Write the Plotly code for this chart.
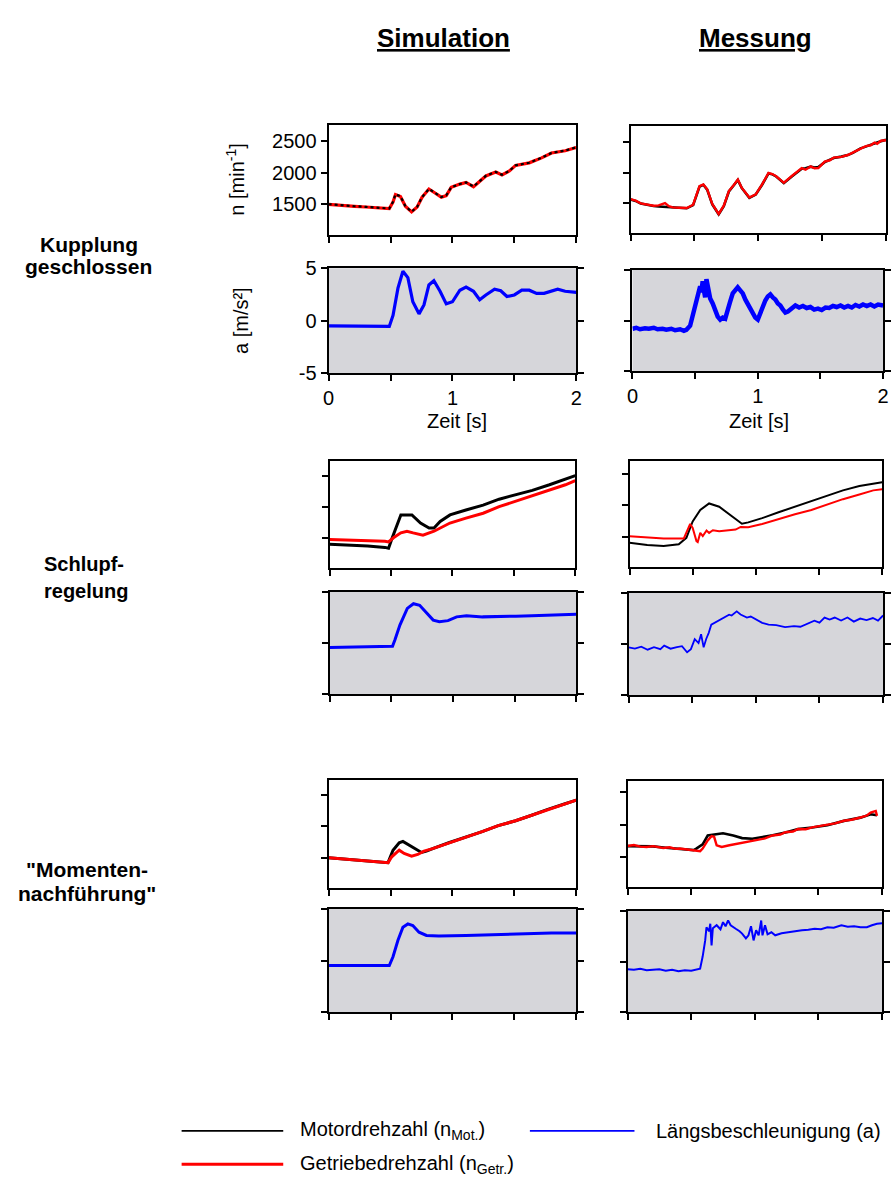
import plotly.graph_objects as go

# ---------------- data ----------------
# Row 1: Kupplung geschlossen - Simulation, speeds
SIM1_T = [0.00, 0.10, 0.21, 0.30, 0.40, 0.49, 0.52, 0.54, 0.58, 0.62, 0.67, 0.715, 0.755, 0.81, 0.85, 0.91,
          0.95, 0.99, 1.06, 1.11, 1.17, 1.21, 1.27, 1.35, 1.40, 1.46, 1.51, 1.62, 1.72, 1.80, 1.91, 2.00]
SIM1_GETR = [1500, 1480, 1469, 1458, 1445, 1432, 1536, 1656, 1625, 1469, 1380, 1458, 1614, 1744, 1692, 1614,
             1640, 1770, 1822, 1848, 1781, 1848, 1952, 2015, 1968, 2030, 2119, 2160, 2239, 2316, 2353, 2405]
SIM1_MOT = [1502, 1482, 1470, 1460, 1446, 1434, 1540, 1660, 1628, 1472, 1382, 1460, 1616, 1746, 1694, 1616,
            1642, 1772, 1824, 1850, 1783, 1850, 1954, 2017, 1970, 2032, 2121, 2162, 2241, 2318, 2355, 2407]
# Row 2: Kupplung geschlossen - Simulation, acceleration
SIM2_T = [0.00, 0.20, 0.40, 0.49, 0.52, 0.56, 0.60, 0.64, 0.68, 0.73, 0.77, 0.81, 0.85, 0.90, 0.95, 1.00,
          1.06, 1.11, 1.17, 1.22, 1.27, 1.34, 1.39, 1.44, 1.50, 1.56, 1.62, 1.68, 1.74, 1.80, 1.85, 1.91, 2.00]
SIM2_A = [-0.5, -0.5, -0.55, -0.55, 0.5, 3.1, 4.7, 4.1, 1.8, 0.65, 1.5, 3.4, 3.8, 2.8, 1.6, 1.8,
          2.9, 3.2, 2.8, 2.0, 2.45, 3.0, 2.85, 2.3, 2.45, 2.9, 2.9, 2.6, 2.6, 2.8, 3.0, 2.8, 2.7]
# Row 1: Kupplung geschlossen - Messung, speeds
MES1_T = [0.00, 0.04, 0.08, 0.13, 0.18, 0.22, 0.26, 0.27, 0.30, 0.33, 0.38, 0.44, 0.49, 0.51, 0.54, 0.57,
          0.60, 0.64, 0.69, 0.73, 0.77, 0.81, 0.84, 0.87, 0.93, 0.98, 1.03, 1.08, 1.11, 1.14, 1.20, 1.26,
          1.30, 1.34, 1.37, 1.41, 1.44, 1.47, 1.52, 1.56, 1.59, 1.65, 1.70, 1.74, 1.77, 1.80, 1.83, 1.85,
          1.88, 1.91, 1.93, 1.96, 2.00]
MES1_GETR = [1564, 1540, 1495, 1475, 1457, 1462, 1484, 1500, 1450, 1430, 1425, 1420, 1473, 1591, 1778, 1805,
             1725, 1484, 1323, 1457, 1698, 1800, 1885, 1751, 1591, 1644, 1805, 1992, 1975, 1939, 1832, 1939,
             2000, 2072, 2045, 2099, 2070, 2072, 2179, 2200, 2244, 2255, 2286, 2330, 2367, 2390, 2420, 2436,
             2445, 2490, 2470, 2520, 2527]
MES1_MOT = [1560, 1535, 1492, 1470, 1452, 1445, 1440, 1438, 1430, 1422, 1415, 1415, 1468, 1585, 1770, 1800,
            1720, 1480, 1318, 1450, 1690, 1795, 1878, 1748, 1585, 1640, 1800, 1985, 1970, 1935, 1828, 1932,
            1995, 2060, 2070, 2095, 2080, 2090, 2170, 2210, 2238, 2260, 2285, 2320, 2360, 2395, 2415, 2432,
            2450, 2480, 2490, 2510, 2535]
# Row 2: Kupplung geschlossen - Messung, acceleration
MES2_T = [0.00, 0.03, 0.06, 0.10, 0.13, 0.17, 0.20, 0.24, 0.27, 0.31, 0.34, 0.38, 0.41, 0.43, 0.46, 0.48,
          0.50, 0.52, 0.54, 0.55, 0.56, 0.57, 0.58, 0.59, 0.60, 0.61, 0.62, 0.64, 0.66, 0.68, 0.70, 0.72,
          0.74, 0.76, 0.78, 0.80, 0.82, 0.84, 0.86, 0.88, 0.90, 0.92, 0.94, 0.96, 0.98, 1.00, 1.02, 1.04,
          1.06, 1.08, 1.10, 1.12, 1.14, 1.16, 1.18, 1.20, 1.22, 1.24, 1.27, 1.30, 1.33, 1.36, 1.39, 1.42,
          1.45, 1.48, 1.51, 1.54, 1.57, 1.60, 1.63, 1.66, 1.69, 1.72, 1.75, 1.78, 1.81, 1.84, 1.87, 1.90,
          1.93, 1.96, 2.00]
MES2_A = [-0.8, -0.7, -0.85, -0.75, -0.8, -0.7, -0.85, -0.8, -0.9, -0.8, -0.95, -0.85, -1.0, -0.9, -0.5, 0.4,
          1.5, 2.4, 3.4, 2.8, 3.9, 3.0, 2.3, 4.1, 3.3, 2.7, 2.2, 1.7, 1.0, 0.4, 0.1, 0.3,
          0.2, 0.9, 1.9, 2.7, 3.0, 3.3, 3.0, 2.7, 2.1, 1.6, 1.2, 0.6, 0.3, 0.1, 0.8, 1.4,
          2.0, 2.4, 2.6, 2.3, 2.1, 1.7, 1.5, 1.1, 0.8, 0.9, 1.25, 1.5, 1.3, 1.45, 1.25, 1.35,
          1.1, 1.2, 1.05, 1.3, 1.25, 1.45, 1.35, 1.5, 1.3, 1.45, 1.3, 1.55, 1.4, 1.6, 1.45, 1.6,
          1.4, 1.6, 1.5]
# Row 3: Schlupfregelung - Simulation, speeds
SIM3_MOT_T = [0.00, 0.15, 0.31, 0.45, 0.48, 0.51, 0.55, 0.58, 0.67, 0.74, 0.81, 0.85, 0.90, 0.98, 1.11,
              1.25, 1.38, 1.52, 1.65, 1.79, 1.92, 2.00]
SIM3_MOT = [1395, 1385, 1368, 1345, 1332, 1500, 1710, 1868, 1868, 1737, 1658, 1658, 1763, 1868, 1947,
            2026, 2121, 2195, 2263, 2353, 2437, 2500]
SIM3_GETR_T = [0.00, 0.15, 0.31, 0.45, 0.48, 0.52, 0.58, 0.63, 0.68, 0.76, 0.85, 0.98, 1.11, 1.25, 1.38,
               1.52, 1.65, 1.79, 1.92, 2.00]
SIM3_GETR = [1474, 1466, 1458, 1445, 1432, 1500, 1579, 1605, 1579, 1542, 1605, 1737, 1816, 1895, 2000,
             2089, 2184, 2263, 2353, 2421]
# Row 4: Schlupfregelung - Simulation, acceleration
SIM4_T = [0.00, 0.25, 0.51, 0.53, 0.57, 0.63, 0.68, 0.73, 0.79, 0.84, 0.89, 0.96, 1.03, 1.11, 1.24, 1.37,
          1.51, 1.64, 1.77, 1.91, 2.00]
SIM4_A = [-0.42, -0.40, -0.32, 0.32, 1.77, 3.4, 3.86, 3.7, 2.9, 2.25, 2.1, 2.2, 2.57, 2.67, 2.57, 2.57,
          2.64, 2.67, 2.73, 2.8, 2.83]
# Row 3: Schlupfregelung - Messung, speeds
MES3_MOT_T = [0.00, 0.14, 0.27, 0.39, 0.45, 0.50, 0.56, 0.63, 0.71, 0.79, 0.85, 0.89, 0.94, 1.05, 1.18,
              1.31, 1.44, 1.57, 1.69, 1.82, 1.93, 2.00]
MES3_MOT = [1406, 1370, 1354, 1380, 1484, 1744, 1926, 2030, 1978, 1859, 1770, 1708, 1729, 1796, 1890,
            1978, 2067, 2160, 2238, 2306, 2342, 2368]
MES3_GETR_T = [0.00, 0.14, 0.27, 0.43, 0.45, 0.48, 0.50, 0.53, 0.54, 0.56, 0.58, 0.61, 0.63, 0.66, 0.71,
               0.76, 0.84, 0.88, 0.94, 1.05, 1.18, 1.31, 1.44, 1.57, 1.69, 1.82, 1.93, 2.00]
MES3_GETR = [1510, 1495, 1474, 1474, 1562, 1703, 1640, 1432, 1417, 1562, 1510, 1599, 1562, 1604, 1588,
             1599, 1614, 1656, 1651, 1703, 1786, 1859, 1926, 2015, 2098, 2171, 2238, 2254]
# Row 4: Schlupfregelung - Messung, acceleration
MES4_T = [0.00, 0.05, 0.10, 0.15, 0.20, 0.25, 0.28, 0.33, 0.38, 0.42, 0.46, 0.49, 0.52, 0.55, 0.57, 0.59,
          0.61, 0.63, 0.65, 0.69, 0.74, 0.79, 0.81, 0.85, 0.88, 0.90, 0.93, 0.96, 1.00, 1.05, 1.10, 1.16,
          1.23, 1.30, 1.35, 1.39, 1.46, 1.50, 1.54, 1.58, 1.62, 1.67, 1.72, 1.77, 1.82, 1.87, 1.92, 1.96, 2.00]
MES4_A = [-0.32, -0.45, -0.25, -0.55, -0.3, -0.5, -0.15, -0.45, -0.3, -0.2, -0.8, -0.5, 0.48, 0.1, 0.96, -0.32,
          0.5, 1.1, 1.9, 2.2, 2.56, 2.88, 2.8, 3.2, 2.9, 2.8, 2.6, 2.7, 2.4, 2.08, 1.9, 1.85,
          1.67, 1.75, 1.7, 1.92, 2.3, 2.1, 2.6, 2.4, 2.6, 2.3, 2.6, 2.2, 2.5, 2.35, 2.55, 2.3, 2.8]
# Row 5: Momentennachführung - Simulation, speeds
SIM5_MOT_T = [0.00, 0.15, 0.31, 0.48, 0.52, 0.57, 0.60, 0.65, 0.71, 0.75, 0.79, 0.84, 0.97, 1.11, 1.24,
              1.37, 1.51, 1.64, 1.77, 1.91, 2.00]
SIM5_MOT = [1500, 1474, 1453, 1422, 1619, 1738, 1759, 1697, 1619, 1583, 1604, 1645, 1738, 1826, 1914,
            2008, 2085, 2173, 2267, 2355, 2412]
SIM5_GETR_T = [0.00, 0.15, 0.31, 0.48, 0.51, 0.55, 0.57, 0.61, 0.67, 0.72, 0.77, 0.84, 0.97, 1.11, 1.24,
               1.37, 1.51, 1.64, 1.77, 1.91, 2.00]
SIM5_GETR = [1500, 1474, 1453, 1422, 1515, 1583, 1619, 1567, 1526, 1552, 1604, 1645, 1738, 1826, 1914,
             2008, 2085, 2173, 2267, 2355, 2412]
# Row 6: Momentennachführung - Simulation, acceleration
SIM6_T = [0.00, 0.25, 0.49, 0.52, 0.56, 0.60, 0.64, 0.68, 0.73, 0.79, 0.89, 1.11, 1.37, 1.64, 1.80, 2.00]
SIM6_A = [-0.48, -0.48, -0.48, 0.38, 1.97, 3.24, 3.56, 3.4, 2.76, 2.44, 2.38, 2.44, 2.54, 2.6, 2.67, 2.67]
# Row 5: Momentennachführung - Messung, speeds
MES5_GETR_T = [0.00, 0.05, 0.10, 0.15, 0.20, 0.25, 0.28, 0.33, 0.38, 0.41, 0.46, 0.52, 0.57, 0.59, 0.63,
               0.66, 0.68, 0.70, 0.74, 0.80, 0.84, 0.88, 0.95, 1.03, 1.08, 1.14, 1.20, 1.24, 1.30, 1.34,
               1.40, 1.45, 1.50, 1.57, 1.63, 1.70, 1.76, 1.83, 1.88, 1.91, 1.95, 1.96]
MES5_GETR = [1675, 1690, 1665, 1660, 1672, 1650, 1645, 1655, 1630, 1635, 1622, 1610, 1595, 1635, 1760,
             1825, 1815, 1685, 1660, 1685, 1700, 1710, 1745, 1775, 1790, 1835, 1850, 1885, 1895, 1935,
             1930, 1960, 1975, 1995, 2020, 2060, 2075, 2110, 2140, 2185, 2210, 2135]
MES5_MOT_T = [0.00, 0.10, 0.20, 0.30, 0.41, 0.52, 0.54, 0.59, 0.63, 0.69, 0.75, 0.83, 0.90, 0.98, 1.06,
              1.14, 1.24, 1.34, 1.45, 1.57, 1.70, 1.83, 1.91, 1.96]
MES5_MOT = [1672, 1668, 1668, 1648, 1632, 1612, 1635, 1700, 1835, 1855, 1870, 1835, 1795, 1785, 1810,
            1838, 1882, 1932, 1958, 1993, 2058, 2108, 2160, 2145]
# Row 6: Momentennachführung - Messung, acceleration
MES6_T = [0.00, 0.05, 0.10, 0.15, 0.20, 0.25, 0.30, 0.35, 0.40, 0.45, 0.50, 0.54, 0.57, 0.59, 0.61, 0.62,
          0.64, 0.65, 0.66, 0.67, 0.70, 0.73, 0.75, 0.77, 0.79, 0.81, 0.83, 0.85, 0.88, 0.90, 0.93, 0.95,
          0.97, 0.99, 1.01, 1.03, 1.05, 1.06, 1.08, 1.10, 1.13, 1.16, 1.21, 1.26, 1.31, 1.37, 1.42, 1.47,
          1.52, 1.57, 1.62, 1.68, 1.73, 1.78, 1.83, 1.88, 1.92, 1.96, 2.00]
MES6_A = [-0.75, -0.8, -0.7, -0.85, -0.8, -0.75, -0.9, -0.8, -0.95, -0.85, -0.9, -0.75, -0.7, 0.5, 2.1, 3.4,
          3.0, 3.75, 1.6, 3.3, 3.6, 3.2, 3.9, 3.5, 4.07, 3.6, 3.4, 3.25, 3.0, 2.77, 2.3, 2.6,
          3.5, 2.1, 3.1, 2.6, 4.07, 2.6, 3.6, 2.7, 2.9, 2.6, 2.8, 2.9, 3.05, 3.1, 3.15, 3.25,
          3.2, 3.4, 3.35, 3.6, 3.45, 3.5, 3.4, 3.4, 3.6, 3.75, 3.8]

# ---------------- text ----------------
COL_TITLES = ["Simulation", "Messung"]
ROW_LABELS = [["Kupplung", "geschlossen"], ["Schlupf-", "regelung"], ["\"Momenten-", "nachführung\""]]
X_TICKS = [0, 0.5, 1, 1.5, 2]
X_TICKTEXT = ["0", "", "1", "", "2"]
N_TICKS = [1000, 1500, 2000, 2500]
N_TICKTEXT = ["", "1500", "2000", "2500"]
A_TICKS = [-5, 0, 5]
A_TICKTEXT = ["-5", "0", "5"]
LEGEND_LABELS = ["Motordrehzahl (n<sub>Mot.</sub>)", "Getriebedrehzahl (n<sub>Getr.</sub>)",
                 "Längsbeschleunigung (a)"]

BLACK = "#000000"
RED = "#ff0000"
BLUE = "#0000ff"
GREY = "#d6d6da"
FONT = "Liberation Sans, Arial, sans-serif"

W, H = 896, 1191

# plot rectangles in pixels: (x0, x1, y0, y1)
RECTS = {
    1: (327, 578, 116, 228), 2: (633, 892, 117, 226),
    3: (327, 578, 262, 369), 4: (635, 889, 264, 367),
    5: (328, 577, 458, 567), 6: (632, 888, 458, 566),
    7: (328, 578, 592, 696), 8: (631, 889, 593, 697),
    9: (327, 578, 783, 893), 10: (630, 888, 784, 892),
    11: (327, 578, 915, 1020), 12: (630, 888, 917, 1020),
}
N_RANGES = {1: [1016, 2764], 2: [1014, 2763], 5: [1021, 2743], 6: [1027, 2712], 9: [1029, 2738], 10: [1055, 2675]}

fig = go.Figure()


def add(k, x, y, color, width, dash="solid"):
    ax = "" if k == 1 else str(k)
    fig.add_trace(go.Scatter(x=x, y=y, mode="lines", line=dict(color=color, width=width, dash=dash),
                             xaxis="x" + ax, yaxis="y" + ax, showlegend=False, hoverinfo="skip"))


# Row 1/2
add(1, SIM1_T, SIM1_GETR, RED, 3.2)
add(1, SIM1_T, SIM1_MOT, BLACK, 2.2, "dot")
add(2, MES1_T, MES1_MOT, BLACK, 2.6)
add(2, MES1_T, MES1_GETR, RED, 2.4)
add(3, SIM2_T, SIM2_A, BLUE, 3.2)
add(4, MES2_T, MES2_A, BLUE, 4.5)
# Row 3/4
add(5, SIM3_MOT_T, SIM3_MOT, BLACK, 3)
add(5, SIM3_GETR_T, SIM3_GETR, RED, 3)
add(6, MES3_MOT_T, MES3_MOT, BLACK, 2)
add(6, MES3_GETR_T, MES3_GETR, RED, 2)
add(7, SIM4_T, SIM4_A, BLUE, 3)
add(8, MES4_T, MES4_A, BLUE, 1.8)
# Row 5/6
add(9, SIM5_MOT_T, SIM5_MOT, BLACK, 3)
add(9, SIM5_GETR_T, SIM5_GETR, RED, 3)
add(10, MES5_MOT_T, MES5_MOT, BLACK, 2.6)
add(10, MES5_GETR_T, MES5_GETR, RED, 2.4)
add(11, SIM6_T, SIM6_A, BLUE, 3)
add(12, MES6_T, MES6_A, BLUE, 2)

layout = dict(width=W, height=H, margin=dict(l=0, r=0, t=0, b=0), paper_bgcolor="white",
              plot_bgcolor="rgba(0,0,0,0)", font=dict(family=FONT, color="black", size=18))
shapes = []
for k, (x0, x1, y0, y1) in RECTS.items():
    ax = "" if k == 1 else str(k)
    row = (k - 1) // 2
    is_acc = row % 2 == 1
    xa = dict(domain=[x0 / W, x1 / W], range=[0, 2], anchor="y" + ax, showgrid=False, zeroline=False,
              showline=True, linecolor="black", linewidth=2, mirror=True,
              ticks="outside", ticklen=6, tickwidth=2, tickcolor="black",
              tickvals=X_TICKS, ticktext=X_TICKTEXT, showticklabels=(row == 1),
              tickfont=dict(size=20, family=FONT))
    ya = dict(domain=[1 - y1 / H, 1 - y0 / H], anchor="x" + ax, showgrid=False, zeroline=False,
              showline=True, linecolor="black", linewidth=2,
              ticks="outside", ticklen=6, tickwidth=2, tickcolor="black",
              tickfont=dict(size=20, family=FONT))
    if is_acc:
        ya.update(range=[-5, 5], tickvals=A_TICKS, ticktext=A_TICKTEXT, showticklabels=(k == 3),
                  mirror="ticks")
        shapes.append(dict(type="rect", xref="x" + ax + " domain", yref="y" + ax + " domain",
                           x0=0, x1=1, y0=0, y1=1, fillcolor=GREY, line=dict(width=0), layer="below"))
    else:
        ya.update(range=N_RANGES[k], tickvals=N_TICKS, ticktext=N_TICKTEXT, showticklabels=(k == 1),
                  mirror=True)
    layout["xaxis" + ax] = xa
    layout["yaxis" + ax] = ya

annotations = []
# column titles
for txt, cx in zip(COL_TITLES, [443, 760]):
    annotations.append(dict(text="<b><u>" + txt + "</u></b>", x=cx / W, y=1 - 27 / H, xref="paper",
                            yref="paper", showarrow=False, font=dict(size=26, family=FONT),
                            xanchor="center", yanchor="middle"))
# row labels: (x, anchor, [y per line], size)
row_pos = [(84, "center", [238, 260], 21), (36, "left", [563, 591], 20), (82, "center", [875, 899], 21)]
for lines, (cx, anc, ys, fs) in zip(ROW_LABELS, row_pos):
    for line, yy in zip(lines, ys):
        annotations.append(dict(text="<b>" + line + "</b>", x=cx / W, y=1 - yy / H, xref="paper",
                                yref="paper", showarrow=False, font=dict(size=fs, family=FONT),
                                xanchor=anc, yanchor="middle"))
# axis titles
annotations.append(dict(text="n [min<sup>-1</sup>]", x=233 / W, y=1 - 172 / H, xref="paper", yref="paper",
                        showarrow=False, textangle=-90, font=dict(size=20, family=FONT),
                        xanchor="center", yanchor="middle"))
annotations.append(dict(text="a [m/s²]", x=238 / W, y=1 - 315 / H, xref="paper", yref="paper",
                        showarrow=False, textangle=-90, font=dict(size=20, family=FONT),
                        xanchor="center", yanchor="middle"))
for cx in [457, 763]:
    annotations.append(dict(text="Zeit [s]", x=cx / W, y=1 - 418 / H, xref="paper", yref="paper",
                            showarrow=False, font=dict(size=20, family=FONT),
                            xanchor="center", yanchor="middle"))
# legend keys
leg = [(BLACK, 178, 281, 1141, 296, LEGEND_LABELS[0], 1.6),
       (RED, 178, 281, 1175, 296, LEGEND_LABELS[1], 3),
       (BLUE, 531, 637, 1141, 657, LEGEND_LABELS[2], 1.6)]
for color, lx0, lx1, ly, tx, label, lw in leg:
    shapes.append(dict(type="line", xref="paper", yref="paper", x0=lx0 / W, x1=lx1 / W,
                       y0=1 - ly / H, y1=1 - ly / H, line=dict(color=color, width=lw)))
    annotations.append(dict(text=label, x=tx / W, y=1 - ly / H, xref="paper", yref="paper",
                            showarrow=False, font=dict(size=20, family=FONT),
                            xanchor="left", yanchor="middle"))

layout["shapes"] = shapes
layout["annotations"] = annotations
fig.update_layout(**layout)
fig.write_html("out.html", config={"displayModeBar": False, "staticPlot": True},
               post_script="var s=document.createElement('style');"
                           "s.innerHTML='html,body{margin:0;padding:0;width:896px;height:1191px;overflow:hidden;}';"
                           "document.head.appendChild(s);")
